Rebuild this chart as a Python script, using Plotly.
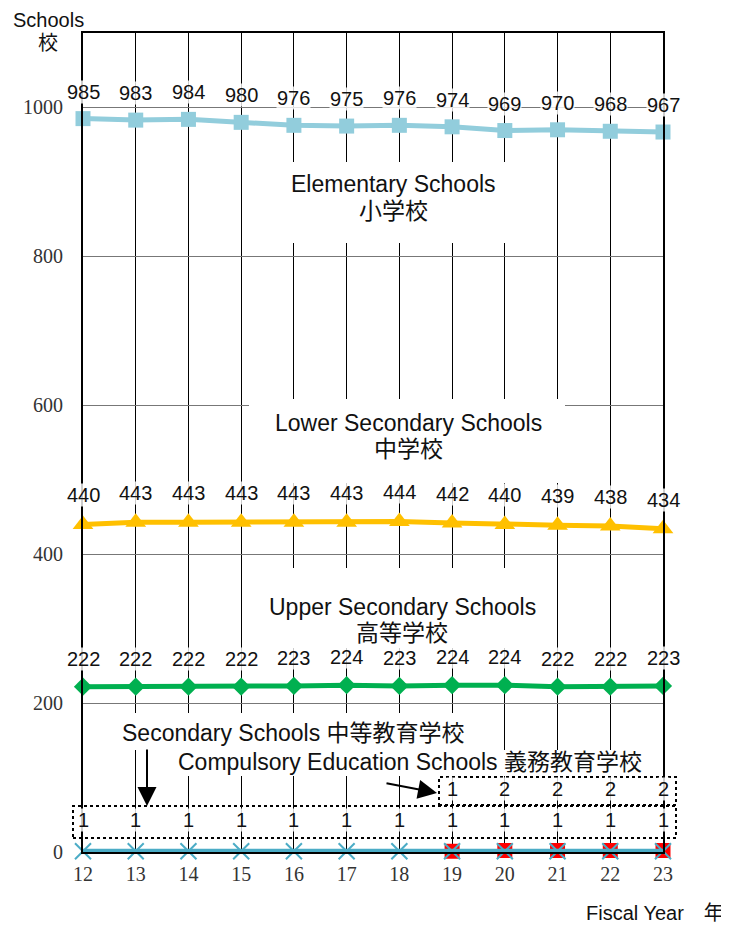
import plotly.graph_objects as go

years = [12, 13, 14, 15, 16, 17, 18, 19, 20, 21, 22, 23]
elementary = [985, 983, 984, 980, 976, 975, 976, 974, 969, 970, 968, 967]
lower_sec = [440, 443, 443, 443, 443, 443, 444, 442, 440, 439, 438, 434]
upper_sec = [222, 222, 222, 222, 223, 224, 223, 224, 224, 222, 222, 223]
secondary = [1, 1, 1, 1, 1, 1, 1, 1, 1, 1, 1, 1]
comp_years = [19, 20, 21, 22, 23]
compulsory = [1, 2, 2, 2, 2]

SANS = "Liberation Sans, Arial, Noto Sans CJK JP"
SERIF = "Liberation Serif, Times New Roman, serif"

# plot area in page pixels (page body adds an 8px offset)
OFF = 8
L, R, T, B = 83, 663, 33, 852
W, H = 729, 925


def px(xp):
    return (xp - L) / (R - L)


def py(yp):
    return (B - yp) / (B - T)


fig = go.Figure()

fig.add_trace(go.Scatter(
    x=comp_years, y=compulsory, mode="lines+markers", cliponaxis=False,
    line=dict(color="#FF0000", width=3),
    marker=dict(symbol="square", size=15, color="#FF0000"),
    name="Compulsory Education Schools"))
fig.add_trace(go.Scatter(
    x=years, y=secondary, mode="lines+markers", cliponaxis=False,
    line=dict(color="#4BACC6", width=5),
    marker=dict(symbol="x-thin-open", size=16, line=dict(color="#4BACC6", width=2)),
    name="Secondary Schools"))
fig.add_trace(go.Scatter(
    x=years, y=upper_sec, mode="lines+markers", cliponaxis=False,
    line=dict(color="#00B050", width=5),
    marker=dict(symbol="diamond", size=14, color="#00B050"),
    name="Upper Secondary Schools"))
fig.add_trace(go.Scatter(
    x=years, y=lower_sec, mode="lines+markers", cliponaxis=False,
    line=dict(color="#FFC000", width=5),
    marker=dict(symbol="triangle-up", size=18, color="#FFC000"),
    name="Lower Secondary Schools"))
fig.add_trace(go.Scatter(
    x=years, y=elementary, mode="lines+markers", cliponaxis=False,
    line=dict(color="#92CDDC", width=5),
    marker=dict(symbol="square", size=15, color="#92CDDC"),
    name="Elementary Schools"))

ann = []


def value_labels(xs, ys, shift):
    for x, y in zip(xs, ys):
        ann.append(dict(x=x, y=y, xref="x", yref="y", text=str(y), showarrow=False,
                        yshift=shift, font=dict(family=SANS, size=20, color="#111"),
                        bgcolor="rgba(255,255,255,0.8)", borderpad=0))


value_labels(years, elementary, 27)
value_labels(years, lower_sec, 29)
value_labels(years, upper_sec, 28)
value_labels(years, secondary, 31)
value_labels(comp_years, compulsory, 62)


def text_at(xp, yp, text, size=23):
    ann.append(dict(x=px(xp), y=py(yp), xref="paper", yref="paper", showarrow=False,
                    xanchor="center", yanchor="middle", text=text,
                    font=dict(family=SANS, size=size, color="#111")))


# category labels (two lines each)
text_at(393, 184, "Elementary Schools")
text_at(393, 211, "小学校")
text_at(408, 423, "Lower Secondary Schools")
text_at(408, 449, "中学校")
text_at(402, 607, "Upper Secondary Schools")
text_at(402, 633, "高等学校")
text_at(293, 733, "Secondary Schools 中等教育学校")
text_at(410, 762, "Compulsory Education Schools 義務教育学校")
# axis titles
text_at(48, 20, "Schools", size=20)
text_at(48, 43, "校", size=20)
text_at(655, 913, "Fiscal Year　年", size=20)

ann += [
    dict(x=px(147), y=py(806), xref="paper", yref="paper", text="", showarrow=True,
         ax=0, ay=-58, arrowhead=2, arrowsize=1.9, arrowwidth=2, arrowcolor="black"),
    dict(x=px(437), y=py(793), xref="paper", yref="paper", text="", showarrow=True,
         ax=-52, ay=-10, arrowhead=2, arrowsize=1.9, arrowwidth=2, arrowcolor="black"),
]


def white_box(x0, x1, y0, y1):
    return dict(type="rect", xref="paper", yref="paper", layer="above",
                x0=px(x0), x1=px(x1), y0=py(y1), y1=py(y0),
                fillcolor="white", line=dict(width=0))


shapes = [
    white_box(250, 540, 162, 243),
    white_box(249, 565, 399, 483),
    white_box(250, 540, 568, 648),
    white_box(110, 476, 713, 750),
    white_box(168, 652, 750, 776),
    dict(type="rect", xref="paper", yref="paper", x0=px(73), x1=px(676), y0=py(838), y1=py(806),
         line=dict(color="black", width=2, dash="dot")),
    dict(type="rect", xref="paper", yref="paper", x0=px(439), x1=px(676), y0=py(805), y1=py(777),
         line=dict(color="black", width=2, dash="dot")),
]

fig.update_layout(
    width=W, height=H,
    margin=dict(l=L - OFF, r=W - R + OFF, t=T - OFF, b=H - B + OFF),
    paper_bgcolor="white", plot_bgcolor="white",
    showlegend=False,
    annotations=ann, shapes=shapes,
    xaxis=dict(range=[12, 23], tickvals=years, showgrid=True, gridcolor="black", gridwidth=1,
               showline=True, linecolor="black", linewidth=2, mirror=True, zeroline=False,
               ticks="", ticklabelstandoff=3,
               tickfont=dict(family=SERIF, size=20, color="#333")),
    yaxis=dict(range=[0, 1100], tickvals=[0, 200, 400, 600, 800, 1000], showgrid=True,
               gridcolor="#777", gridwidth=1, showline=True, linecolor="black", linewidth=2,
               mirror=True, zeroline=False, ticks="", ticklabelstandoff=14,
               tickfont=dict(family=SERIF, size=20, color="#333")),
)

fig.write_html("out.html")
